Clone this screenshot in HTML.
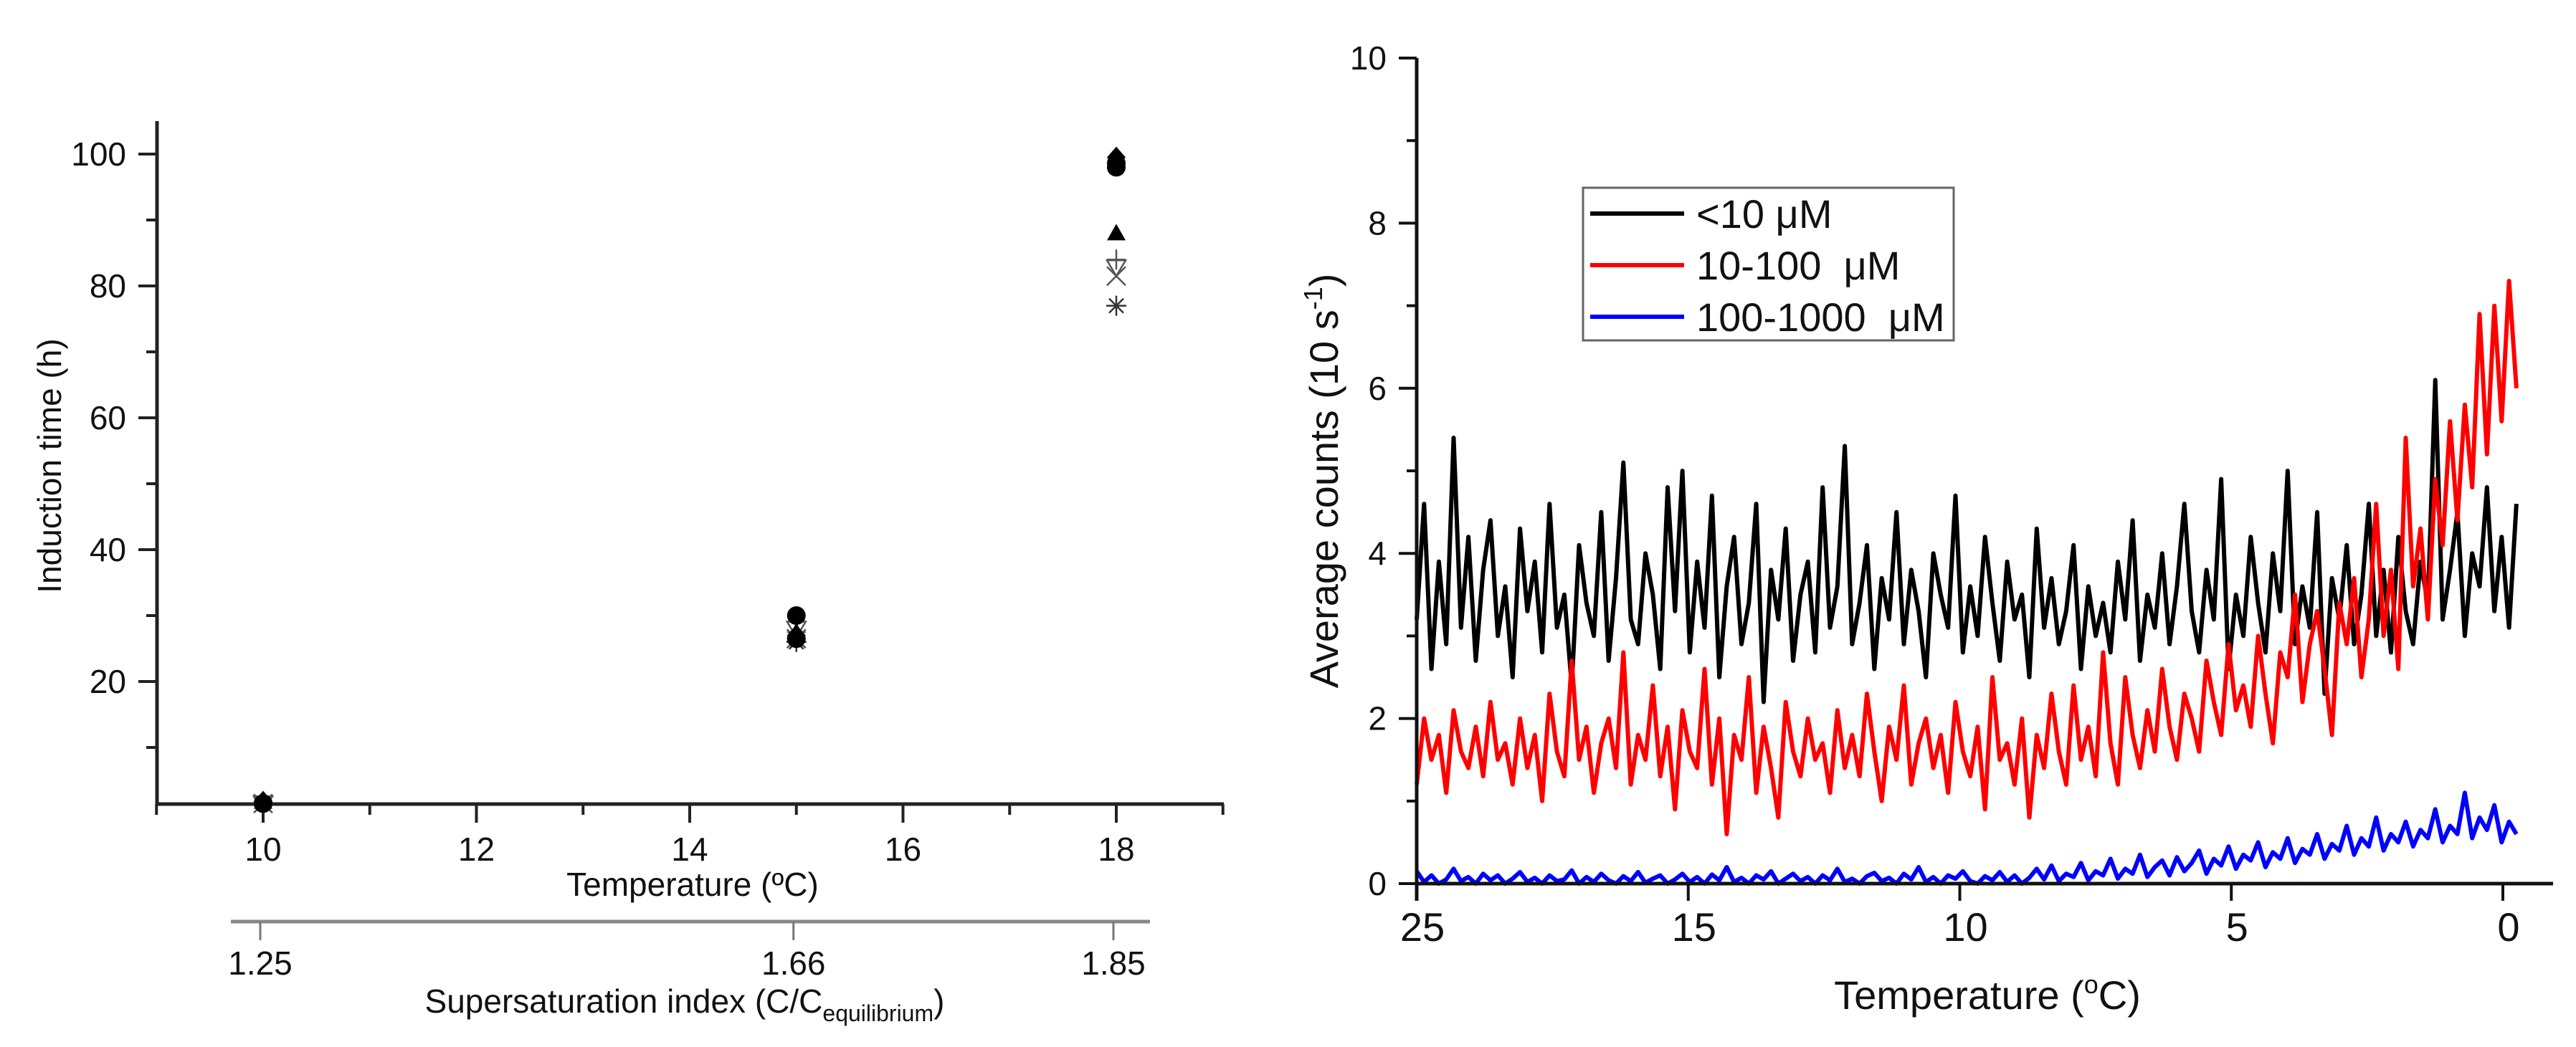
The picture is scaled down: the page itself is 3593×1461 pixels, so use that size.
<!DOCTYPE html>
<html><head><meta charset="utf-8"><style>
html,body{margin:0;padding:0;background:#fff;}
svg{display:block;font-family:"Liberation Sans",Arial,sans-serif;}
</style></head><body>
<svg id="fig" width="3593" height="1461" viewBox="0 0 3593 1461" xmlns="http://www.w3.org/2000/svg">
<rect width="3593" height="1461" fill="#fff"/>
<g id="left"></g>
<g id="right"></g>
</svg>
<script>
// ---------- Left chart data ----------
const leftTemps = [10, 15, 18];
const circleA = [1.5, 30, 98];
const circleB = [1.5, 26.5, 98.6];
const diamondS = [1.8, 27, 99.5];
const triangleS = [1.8, 27.5, 88];
const downTriS = [1.5, 28, 82.8];
const plusS = [1.8, 27.5, 84];
const crossS = [1.5, 26.5, 81.5];
const starS = [1.5, 26, 77];
const leftYTicks = [20, 40, 60, 80, 100];
const leftYMinor = [10, 30, 50, 70, 90];
const leftXTicks = [10, 12, 14, 16, 18];
const leftXMinor = [9, 11, 13, 15, 17, 19];
const ssTemps = [10, 15, 18];
const ssLabels = ["1.25", "1.66", "1.85"];

// ---------- Right chart data ----------
const rightXTickVals = [20, 15, 10, 5, 0];
const rightXTickLabels = ["25", "15", "10", "5", "0"];
const rightYTicks = [0, 2, 4, 6, 8, 10];
const rightYMinor = [1, 3, 5, 7, 9];
const tStart = 20, tEnd = -0.25;
const blackSeries = [3.2,4.6,2.6,3.9,2.9,5.4,3.1,4.2,2.7,3.8,4.4,3.0,3.6,2.5,4.3,3.3,3.9,2.8,4.6,3.1,
3.5,2.4,4.1,3.4,3.0,4.5,2.7,3.7,5.1,3.2,2.9,4.0,3.5,2.6,4.8,3.3,5.0,2.8,3.9,3.1,
4.7,2.5,3.6,4.2,2.9,3.4,4.6,2.2,3.8,3.2,4.3,2.7,3.5,3.9,2.8,4.8,3.1,3.6,5.3,2.9,
3.4,4.1,2.6,3.7,3.2,4.5,2.9,3.8,3.3,2.5,4.0,3.5,3.1,4.7,2.8,3.6,3.0,4.2,3.4,2.7,
3.9,3.2,3.5,2.5,4.3,3.1,3.7,2.9,3.3,4.1,2.6,3.6,3.0,3.4,2.8,3.9,3.2,4.4,2.7,3.5,
3.1,4.0,2.9,3.6,4.6,3.3,2.8,3.8,3.2,4.9,2.6,3.5,3.0,4.2,3.4,2.8,4.0,3.3,5.0,2.9,
3.6,3.1,4.5,2.3,3.7,3.2,4.1,2.9,3.5,4.6,3.0,3.8,2.8,4.2,3.3,2.9,3.9,3.4,6.1,3.2,
3.8,4.5,3.0,4.0,3.6,4.8,3.3,4.2,3.1,4.6];
const redSeries = [1.2,2.0,1.5,1.8,1.1,2.1,1.6,1.4,1.9,1.3,2.2,1.5,1.7,1.2,2.0,1.4,1.8,1.0,2.3,1.6,
1.3,2.7,1.5,1.9,1.1,1.7,2.0,1.4,2.8,1.2,1.8,1.5,2.4,1.3,1.9,0.9,2.1,1.6,1.4,2.6,
1.2,2.0,0.6,1.8,1.5,2.5,1.1,1.9,1.4,0.8,2.2,1.6,1.3,2.0,1.5,1.7,1.1,2.1,1.4,1.8,
1.3,2.3,1.6,1.0,1.9,1.5,2.4,1.2,1.7,2.0,1.4,1.8,1.1,2.2,1.6,1.3,1.9,0.9,2.5,1.5,
1.7,1.2,2.0,0.8,1.8,1.4,2.3,1.6,1.2,2.4,1.5,1.9,1.3,2.8,1.7,1.2,2.5,1.8,1.4,2.1,
1.6,2.6,1.9,1.5,2.3,2.0,1.6,2.7,2.2,1.8,2.9,2.1,2.4,1.9,3.0,2.3,1.7,2.8,2.5,3.5,
2.2,2.9,3.3,2.6,1.8,3.4,2.9,3.7,2.5,3.2,4.6,3.0,3.8,2.6,5.4,3.6,4.3,3.2,4.9,4.1,
5.6,4.4,5.8,4.8,6.9,5.2,7.0,5.6,7.3,6.0];
const blueSeries = [0.15,0.02,0.1,0.0,0.05,0.18,0.03,0.08,0.0,0.12,0.04,0.1,0.0,0.06,0.14,0.02,0.07,0.0,0.1,0.03,
0.05,0.16,0.0,0.08,0.02,0.12,0.04,0.0,0.09,0.03,0.14,0.01,0.06,0.1,0.0,0.05,0.12,0.02,0.08,0.0,
0.11,0.04,0.2,0.02,0.07,0.0,0.1,0.05,0.15,0.0,0.06,0.12,0.03,0.08,0.0,0.1,0.04,0.18,0.02,0.06,
0.0,0.09,0.13,0.03,0.07,0.0,0.12,0.05,0.2,0.02,0.08,0.0,0.1,0.06,0.15,0.03,0.0,0.09,0.04,0.14,
0.02,0.1,0.0,0.07,0.18,0.05,0.22,0.03,0.12,0.08,0.25,0.04,0.15,0.1,0.3,0.06,0.18,0.12,0.35,0.08,
0.2,0.28,0.1,0.32,0.15,0.25,0.4,0.12,0.3,0.22,0.45,0.18,0.35,0.28,0.5,0.2,0.38,0.3,0.55,0.25,
0.42,0.35,0.6,0.3,0.48,0.4,0.7,0.35,0.55,0.45,0.8,0.4,0.6,0.5,0.75,0.45,0.65,0.55,0.9,0.5,
0.7,0.6,1.1,0.55,0.8,0.65,0.95,0.5,0.75,0.6];
const legendLabels = ["<10 \u03bcM", "10-100  \u03bcM", "100-1000  \u03bcM"];
const seriesColors = ["#000000", "#ff0000", "#0000ff"];

const NS = "http://www.w3.org/2000/svg";
function mk(parent, tag, attrs) {
  const e = document.createElementNS(NS, tag);
  for (const k in attrs) e.setAttribute(k, attrs[k]);
  parent.appendChild(e);
  return e;
}

// ===== LEFT CHART =====
const L = document.getElementById('left');
const lx = v => 367 + (v - 10) * (1557 - 367) / 8;
const ly = v => 951 - (v - 20) * (951 - 215) / 80;
let e;
e = mk(L, 'line', {x1:219, y1:169, x2:219, y2:1124, stroke:'#222', 'stroke-width':5});


e = mk(L, 'line', {x1:217, y1:1122, x2:1707, y2:1122, stroke:'#222', 'stroke-width':5});


leftYTicks.forEach(v => {
  const t = mk(L, 'line', {x1:193, y1:ly(v), x2:219, y2:ly(v), stroke:'#222', 'stroke-width':4});
  
  
  const tx = mk(L, 'text', {x:176, y:ly(v) + 16, 'text-anchor':'end', 'font-size':46, fill:'#111'});
  tx.textContent = v;
  
  
});
leftYMinor.forEach(v => {
  const t = mk(L, 'line', {x1:204, y1:ly(v), x2:219, y2:ly(v), stroke:'#222', 'stroke-width':4});
  
  
});
leftXTicks.forEach(v => {
  const t = mk(L, 'line', {x1:lx(v), y1:1122, x2:lx(v), y2:1148, stroke:'#222', 'stroke-width':4});
  
  
  const tx = mk(L, 'text', {x:lx(v), y:1201, 'text-anchor':'middle', 'font-size':46, fill:'#111'});
  tx.textContent = v;
  
  
});
leftXMinor.forEach(v => {
  const t = mk(L, 'line', {x1:lx(v), y1:1122, x2:lx(v), y2:1137, stroke:'#222', 'stroke-width':4});
  
  
});
e = mk(L, 'text', {x:966, y:1250, 'text-anchor':'middle', 'font-size':46, fill:'#111'});
e.textContent = 'Temperature (ºC)';


e = mk(L, 'text', {x:0, y:0, transform:'translate(85,650) rotate(-90)', 'text-anchor':'middle', 'font-size':46, fill:'#111'});
e.textContent = 'Induction time (h)';


// secondary axis
e = mk(L, 'line', {x1:322, y1:1286, x2:1604, y2:1286, stroke:'#888', 'stroke-width':5});


ssTemps.forEach((v, i) => {
  const t = mk(L, 'line', {x1:lx(v) - 4, y1:1286, x2:lx(v) - 4, y2:1312, stroke:'#777', 'stroke-width':3});
  
  
  const tx = mk(L, 'text', {x:lx(v) - 4, y:1360, 'text-anchor':'middle', 'font-size':46, fill:'#111'});
  tx.textContent = ssLabels[i];
  
  
});
e = mk(L, 'text', {x:955, y:1413, 'text-anchor':'middle', 'font-size':46, fill:'#111'});
e.innerHTML = 'Supersaturation index (C/C<tspan font-size="32" dy="12">equilibrium</tspan><tspan dy="-12">)</tspan>';



// markers
function drawMarkers(vals, kind) {
  vals.forEach((v, i) => {
    const cx = lx(leftTemps[i]), cy = ly(v);
    let m;
    if (kind === 'circle') m = mk(L, 'circle', {cx, cy, r:13, fill:'#000'});
    else if (kind === 'diamond') m = mk(L, 'polygon', {points:`${cx},${cy-15} ${cx+13},${cy} ${cx},${cy+15} ${cx-13},${cy}`, fill:'#000'});
    else if (kind === 'triangle') m = mk(L, 'polygon', {points:`${cx},${cy-13} ${cx+13},${cy+10} ${cx-13},${cy+10}`, fill:'#000'});
    else if (kind === 'downtri') m = mk(L, 'polygon', {points:`${cx-13},${cy-10} ${cx+13},${cy-10} ${cx},${cy+12}`, fill:'none', stroke:'#555', 'stroke-width':2.5});
    else if (kind === 'plus') m = mk(L, 'path', {d:`M${cx},${cy-14}V${cy+14}M${cx-13},${cy}H${cx+13}`, stroke:'#555', 'stroke-width':2.5});
    else if (kind === 'cross') m = mk(L, 'path', {d:`M${cx-13},${cy-13}L${cx+13},${cy+13}M${cx+13},${cy-13}L${cx-13},${cy+13}`, stroke:'#555', 'stroke-width':2.5});
    else m = mk(L, 'path', {d:`M${cx},${cy-14}V${cy+14}M${cx-14},${cy}H${cx+14}M${cx-10},${cy-10}L${cx+10},${cy+10}M${cx+10},${cy-10}L${cx-10},${cy+10}`, stroke:'#333', 'stroke-width':2.5});
    
    
  });
}
drawMarkers(starS, 'star');
drawMarkers(crossS, 'cross');
drawMarkers(plusS, 'plus');
drawMarkers(downTriS, 'downtri');
drawMarkers(triangleS, 'triangle');
drawMarkers(circleB, 'circle');
drawMarkers(diamondS, 'diamond');
drawMarkers(circleA, 'circle');

// ===== RIGHT CHART =====
const R = document.getElementById('right');
const rx = v => 1976 + (20 - v) * (3491 - 1976) / 20;
const ry = v => 1233 - v * (1233 - 81) / 10;
function drawSeries(vals, color, name) {
  const n = vals.length;
  const pts = vals.map((v, i) => {
    const t = tStart + (tEnd - tStart) * i / (n - 1);
    return rx(t).toFixed(1) + ',' + ry(v).toFixed(1);
  }).join(' ');
  const p = mk(R, 'polyline', {points:pts, fill:'none', stroke:color, 'stroke-width':6, 'stroke-linejoin':'round'});
  
  
}
drawSeries(blackSeries, seriesColors[0], 'series-below-10uM');
drawSeries(redSeries, seriesColors[1], 'series-10-100uM');
drawSeries(blueSeries, seriesColors[2], 'series-100-1000uM');

e = mk(R, 'line', {x1:1976, y1:81, x2:1976, y2:1257, stroke:'#111', 'stroke-width':5});


e = mk(R, 'line', {x1:1974, y1:1233, x2:3561, y2:1233, stroke:'#111', 'stroke-width':5});


rightYTicks.forEach(v => {
  const t = mk(R, 'line', {x1:1951, y1:ry(v), x2:1976, y2:ry(v), stroke:'#111', 'stroke-width':4});
  
  
  const tx = mk(R, 'text', {x:1934, y:ry(v) + 16, 'text-anchor':'end', 'font-size':46, fill:'#111'});
  tx.textContent = v;
  
  
});
rightYMinor.forEach(v => {
  const t = mk(R, 'line', {x1:1962, y1:ry(v), x2:1976, y2:ry(v), stroke:'#111', 'stroke-width':4});
  
  
});
rightXTickVals.forEach((v, i) => {
  const t = mk(R, 'line', {x1:rx(v), y1:1233, x2:rx(v), y2:1257, stroke:'#111', 'stroke-width':4});
  
  
  const tx = mk(R, 'text', {x:rx(v) + 8, y:1313, 'text-anchor':'middle', 'font-size':56, fill:'#111'});
  tx.textContent = rightXTickLabels[i];
  
  
});
e = mk(R, 'text', {x:2772, y:1408, 'text-anchor':'middle', 'font-size':56, fill:'#111'});
e.innerHTML = 'Temperature (<tspan font-size="36" dy="-22">o</tspan><tspan dy="22">C)</tspan>';


e = mk(R, 'text', {x:0, y:0, transform:'translate(1866,671) rotate(-90)', 'text-anchor':'middle', 'font-size':56, fill:'#111'});
e.innerHTML = 'Average counts (10 s<tspan font-size="36" dy="-22">-1</tspan><tspan dy="22">)</tspan>';



// legend
const LG = mk(R, 'g', {});


e = mk(LG, 'rect', {x:2208, y:262, width:517, height:213, fill:'#fff', stroke:'#666', 'stroke-width':3});


legendLabels.forEach((lab, i) => {
  const yy = 298 + i * 72;
  const ln = mk(LG, 'line', {x1:2218, y1:yy, x2:2349, y2:yy, stroke:seriesColors[i], 'stroke-width':6});
  
  
  const tx = mk(LG, 'text', {x:2366, y:yy + 20, 'font-size':56, fill:'#111', 'xml:space':'preserve'});
  tx.style.whiteSpace = 'pre';
  tx.textContent = lab;
  
  
});
</script>
</body></html>
